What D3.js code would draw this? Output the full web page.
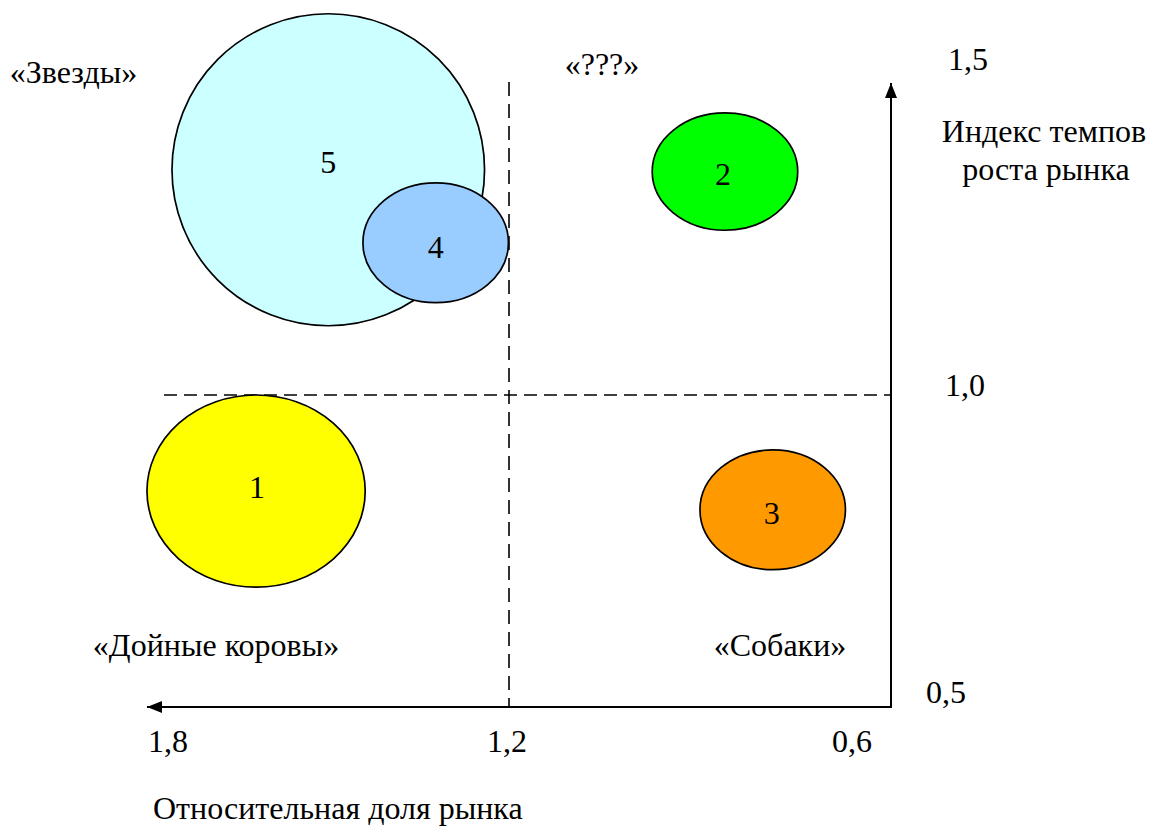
<!DOCTYPE html>
<html><head><meta charset="utf-8">
<script src="https://cdn.jsdelivr.net/npm/d3@7"></script>
<style>body{margin:0;background:#fff}svg{display:block}</style>
</head><body>
<script>
// ---- data ----
const bubbleIds   = ["1","2","3","4","5"];
const shareValues = [1.645, 0.820, 0.736, 1.329, 1.518];   // relative market share (x)
const growthValues= [0.846, 1.358, 0.816, 1.244, 1.361];   // market growth index (y)
const sizeX       = [0.192, 0.128, 0.128, 0.128, 0.275];   // half-width in share units
const sizeY       = [0.154, 0.094, 0.096, 0.096, 0.250];   // half-height in growth units
const bubbleColors= ["#FFFF00","#00FF00","#FF9900","#99CCFF","#CCFFFF"];
const drawOrder   = [4, 3, 1, 2, 0];
const xTickValues = [1.8, 1.2, 0.6];
const xTickLabels = ["1,8","1,2","0,6"];
const yTickValues = [1.5, 1.0, 0.5];
const yTickLabels = ["1,5","1,0","0,5"];
const quadrantLabels = ["«Звезды»","«???»","«Дойные коровы»","«Собаки»"];
const xTitle = "Относительная доля рынка";
const yTitle = ["Индекс темпов","роста рынка"];
const xSplit = 1.2, ySplit = 1.0;

const W = 1151, H = 828;
const FF = "'Liberation Serif', 'Times New Roman', Tinos, serif";
const svg = d3.select("body").append("svg").attr("width", W).attr("height", H)
  .attr("font-family", FF);
const x = d3.scaleLinear().domain([1.8, 0.6]).range([168, 850]);
const y = d3.scaleLinear().domain([0.5, 1.5]).range([707, 83]);
const axisX = x.invert(891);   // vertical axis position
const xLeftEnd = x.invert(147);
const FS = 32;

function txt(px, py, t, anchor) {
  return svg.append("text").attr("x", px).attr("y", py).attr("text-anchor", anchor || "middle")
    .attr("font-family", FF).attr("font-size", FS).attr("fill", "#000").text(t);
}

const defs = svg.append("defs");
defs.append("marker").attr("id","arr").attr("viewBox","0 0 10 10").attr("refX",10).attr("refY",5)
  .attr("markerWidth",15).attr("markerHeight",15).attr("markerUnits","userSpaceOnUse").attr("orient","auto")
  .append("path").attr("d","M0,1 L10,5 L0,9 Z").attr("fill","#000");

// dashed split lines
svg.append("line").attr("x1", x(xSplit)).attr("x2", x(xSplit)).attr("y1", y(1.5) - 1).attr("y2", y(0.5))
  .attr("stroke","#000").attr("stroke-width",1.6).attr("stroke-dasharray","14,8");
svg.append("line").attr("x1", 164).attr("x2", x(axisX)).attr("y1", y(ySplit)).attr("y2", y(ySplit))
  .attr("stroke","#000").attr("stroke-width",1.6).attr("stroke-dasharray","13,7");

// bubbles
const labelDy = [7, 13.5, 14, 15, 3];
const labelDx = [1, -2, -1, 0, 0];
drawOrder.forEach(i => {
  const cx = x(shareValues[i]), cy = y(growthValues[i]);
  const rx = Math.abs(x(shareValues[i]) - x(shareValues[i] + sizeX[i]));
  const ry = Math.abs(y(growthValues[i]) - y(growthValues[i] + sizeY[i]));
  svg.append("ellipse").attr("cx",cx).attr("cy",cy).attr("rx",rx).attr("ry",ry)
    .attr("fill",bubbleColors[i]).attr("stroke","#000").attr("stroke-width",1.7);
  txt(cx + labelDx[i], cy + labelDy[i], bubbleIds[i]);
});

// axes
svg.append("line").attr("x1", x(axisX) + 1).attr("x2", x(xLeftEnd)).attr("y1", y(0.5)).attr("y2", y(0.5))
  .attr("stroke","#000").attr("stroke-width",2).attr("marker-end","url(#arr)");
svg.append("line").attr("x1", x(axisX)).attr("x2", x(axisX)).attr("y1", y(0.5) + 1).attr("y2", y(1.5))
  .attr("stroke","#000").attr("stroke-width",2).attr("marker-end","url(#arr)");

// tick labels
const xTickDx = [0, -2, 2];
xTickValues.forEach((v,i) => txt(x(v) + xTickDx[i], 752, xTickLabels[i]));
const yTickPos = [[968,-13],[965,1],[946,-4]];
yTickValues.forEach((v,i) => txt(yTickPos[i][0], y(v) + yTickPos[i][1], yTickLabels[i]));

// quadrant labels
const qPos = [[73.5,83],[602,75],[216,656],[780,656]];
quadrantLabels.forEach((t,i) => txt(qPos[i][0], qPos[i][1], t));

// axis titles
txt(153, 819, xTitle, "start");
const yTitlePos = [[1044,142],[1046,180]];
yTitle.forEach((t,i) => txt(yTitlePos[i][0], yTitlePos[i][1], t));
</script>
</body></html>
